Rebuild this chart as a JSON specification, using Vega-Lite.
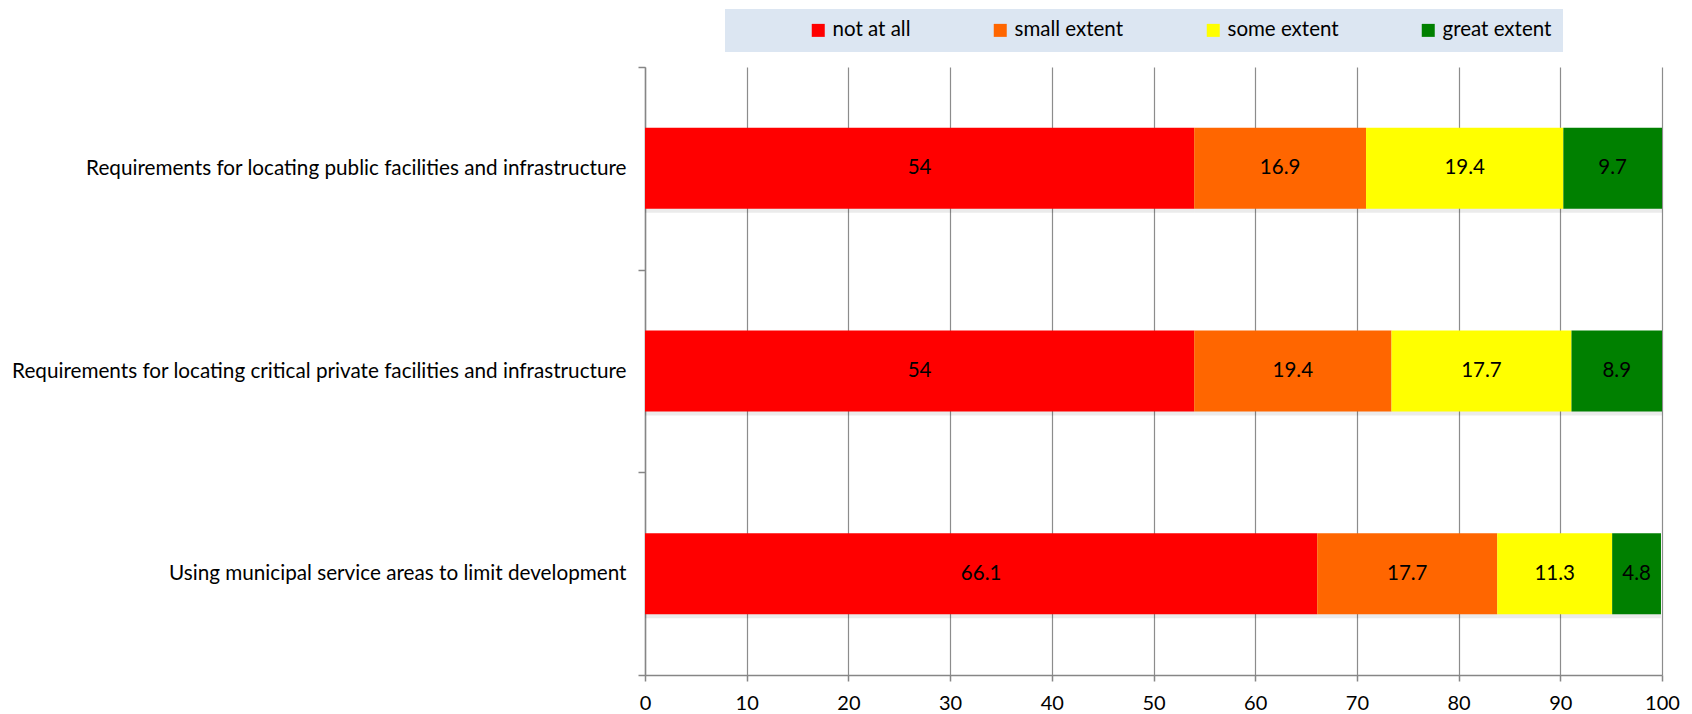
{
  "$schema": "https://vega.github.io/schema/vega-lite/v6.json",
  "width": 1017,
  "height": 608,
  "autosize": {"type": "none"},
  "padding": {"left": 645, "top": 67, "right": 30, "bottom": 39},
  "background": "white",
  "config": {
    "font": "Lato",
    "view": {"stroke": null}
  },
  "data": {
    "values": [
      {"item": "Requirements for locating public facilities and infrastructure", "level": "not at all", "rank": 1, "pct": 54},
      {"item": "Requirements for locating public facilities and infrastructure", "level": "small extent", "rank": 2, "pct": 16.9},
      {"item": "Requirements for locating public facilities and infrastructure", "level": "some extent", "rank": 3, "pct": 19.4},
      {"item": "Requirements for locating public facilities and infrastructure", "level": "great extent", "rank": 4, "pct": 9.7},
      {"item": "Requirements for locating critical private facilities and infrastructure", "level": "not at all", "rank": 1, "pct": 54},
      {"item": "Requirements for locating critical private facilities and infrastructure", "level": "small extent", "rank": 2, "pct": 19.4},
      {"item": "Requirements for locating critical private facilities and infrastructure", "level": "some extent", "rank": 3, "pct": 17.7},
      {"item": "Requirements for locating critical private facilities and infrastructure", "level": "great extent", "rank": 4, "pct": 8.9},
      {"item": "Using municipal service areas to limit development", "level": "not at all", "rank": 1, "pct": 66.1},
      {"item": "Using municipal service areas to limit development", "level": "small extent", "rank": 2, "pct": 17.7},
      {"item": "Using municipal service areas to limit development", "level": "some extent", "rank": 3, "pct": 11.3},
      {"item": "Using municipal service areas to limit development", "level": "great extent", "rank": 4, "pct": 4.8}
    ]
  },
  "encoding": {
    "y": {
      "field": "item",
      "type": "nominal",
      "sort": [
        "Requirements for locating public facilities and infrastructure",
        "Requirements for locating critical private facilities and infrastructure",
        "Using municipal service areas to limit development"
      ],
      "scale": {"paddingInner": 0, "paddingOuter": 0},
      "axis": {
        "title": null,
        "domainColor": "#868686",
        "domainWidth": 1.5,
        "tickColor": "#868686",
        "tickWidth": 1.5,
        "tickSize": 7,
        "tickBand": "extent",
        "labelFontSize": 20.7,
        "labelColor": "#000000",
        "labelPadding": 12,
        "labelLimit": 700,
        "grid": false
      }
    }
  },
  "layer": [
    {
      "mark": {"type": "bar", "fill": "#000000", "opacity": 0.08, "yOffset": 4, "height": {"band": 0.4}},
      "encoding": {
        "x": {"field": "pct", "type": "quantitative", "stack": "zero", "scale": {"domain": [0, 100]}},
        "order": {"field": "rank", "type": "quantitative"}
      }
    },
    {
      "mark": {"type": "bar", "height": {"band": 0.4}},
      "encoding": {
        "x": {
          "field": "pct",
          "type": "quantitative",
          "stack": "zero",
          "scale": {"domain": [0, 100]},
          "axis": {
            "title": null,
            "values": [0, 10, 20, 30, 40, 50, 60, 70, 80, 90, 100],
            "grid": true,
            "gridColor": "#8c8c8c",
            "gridWidth": 1.2,
            "domainColor": "#868686",
            "domainWidth": 1.5,
            "tickColor": "#868686",
            "tickWidth": 1.5,
            "tickSize": 6,
            "labelFlush": false,
            "labelFontSize": 20,
            "labelColor": "#000000",
            "labelPadding": 12
          }
        },
        "order": {"field": "rank", "type": "quantitative"},
        "color": {
          "field": "level",
          "type": "nominal",
          "scale": {
            "domain": ["not at all", "small extent", "some extent", "great extent"],
            "range": ["#ff0000", "#ff6600", "#ffff00", "#008000"]
          },
          "legend": {
            "title": null,
            "orient": "none",
            "direction": "horizontal",
            "legendX": 80,
            "legendY": -58,
            "fillColor": "#dce6f2",
            "padding": 11,
            "symbolType": "square",
            "symbolSize": 169,
            "symbolStrokeWidth": 0,
            "symbolOffset": 72,
            "labelOffset": 4,
            "columnPadding": 7,
            "labelFontSize": 20.5,
            "labelColor": "#000000"
          }
        }
      }
    },
    {
      "mark": {"type": "text", "fontSize": 20.5, "color": "#000000"},
      "encoding": {
        "x": {"field": "pct", "type": "quantitative", "stack": "zero", "bandPosition": 0.5},
        "order": {"field": "rank", "type": "quantitative"},
        "text": {"field": "pct", "type": "quantitative"}
      }
    }
  ]
}
